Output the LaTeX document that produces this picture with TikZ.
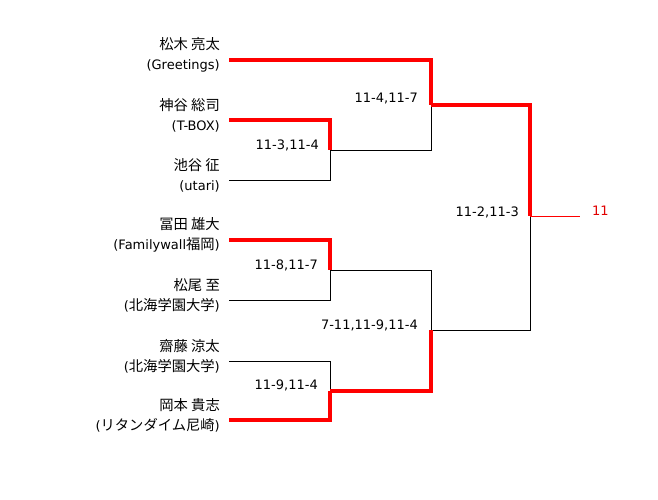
\documentclass[tikz,border=0pt]{standalone}
\usepackage{fontspec}
\setmainfont{DejaVu Sans}
\newfontfamily\jp[Scale=1.1]{Noto Sans CJK JP}
\definecolor{champred}{RGB}{225,0,0}
\begin{document}
\begin{tikzpicture}[x=1pt,y=-1pt,
  pname/.style={anchor=east, align=right, inner sep=0pt, font=\fontsize{13}{20}\selectfont},
  score/.style={anchor=east, inner sep=0pt, font=\fontsize{13}{16}\selectfont},
  loser/.style={draw=black, line width=0.8pt},
  winner/.style={draw=red, line width=4.5pt, line join=miter},
  final/.style={draw=red, line width=0.9pt},
]
\useasboundingbox (0,0) rectangle (658,500);
% leaf endpoints
\coordinate (p1) at (229,60);
\coordinate (p2) at (229,120);
\coordinate (p3) at (229,180);
\coordinate (p4) at (229,240);
\coordinate (p5) at (229,300);
\coordinate (p6) at (229,361);
\coordinate (p7) at (229,420);
% joints
\coordinate (m1) at (330,150);
\coordinate (m2) at (330,270);
\coordinate (m3) at (330,391);
\coordinate (s1) at (431,105);
\coordinate (s2) at (431,330);
\coordinate (f) at (530,216);
\coordinate (w) at (580,216);
% names
\node[pname] (n1) at (220,55) {{\jp 松木 亮太}\\(Greetings)};
\node[pname] (n2) at (220,115) {{\jp 神谷 総司}\\(T-BOX)};
\node[pname] (n3) at (220,175) {{\jp 池谷 征}\\(utari)};
\node[pname] (n4) at (220,235) {{\jp 冨田 雄大}\\(Familywall{\jp 福岡})};
\node[pname] (n5) at (220,295) {{\jp 松尾 至}\\({\jp 北海学園大学})};
\node[pname] (n6) at (220,356) {{\jp 齋藤 涼太}\\({\jp 北海学園大学})};
\node[pname] (n7) at (220,415) {{\jp 岡本 貴志}\\({\jp リタンダイム尼崎})};
% black (losing) lines
\draw[loser] (p3) -- (p3 -| m1) -- (m1);
\draw[loser] (p5) -- (p5 -| m2) -- (m2);
\draw[loser] (p6) -- (p6 -| m3) -- (m3);
\draw[loser] (m1) -- (m1 -| s1) -- (s1);
\draw[loser] (m2) -- (m2 -| s2) -- (s2);
\draw[loser] (s2) -- (s2 -| f) -- (f);
% red (winning) lines
\draw[winner] (p2) -- (p2 -| m1) -- (m1);
\draw[winner] (p4) -- (p4 -| m2) -- (m2);
\draw[winner] (p7) -- (p7 -| m3) -- (m3);
\draw[winner] (p1) -- (p1 -| s1) -- (s1);
\draw[winner] (m3) -- (m3 -| s2) -- (s2);
\draw[winner] (s1) -- (s1 -| f) -- (f);
\draw[final] (f) -- (w);
% scores
\node[score] (sc1) at ([xshift=-11pt,yshift=5pt]m1) {11-3,11-4};
\node[score] (sc2) at ([xshift=-12pt,yshift=5pt]m2) {11-8,11-7};
\node[score] (sc3) at ([xshift=-12pt,yshift=6pt]m3) {11-9,11-4};
\node[score] (sc4) at ([xshift=-13pt,yshift=6pt]s1) {11-4,11-7};
\node[score] (sc5) at ([xshift=-13pt,yshift=5pt]s2) {7-11,11-9,11-4};
\node[score] (sc6) at ([xshift=-11pt,yshift=4pt]f) {11-2,11-3};
\node[score, anchor=west, text=champred] (champ) at ([xshift=12pt,yshift=5pt]w) {11};
\end{tikzpicture}
\end{document}
